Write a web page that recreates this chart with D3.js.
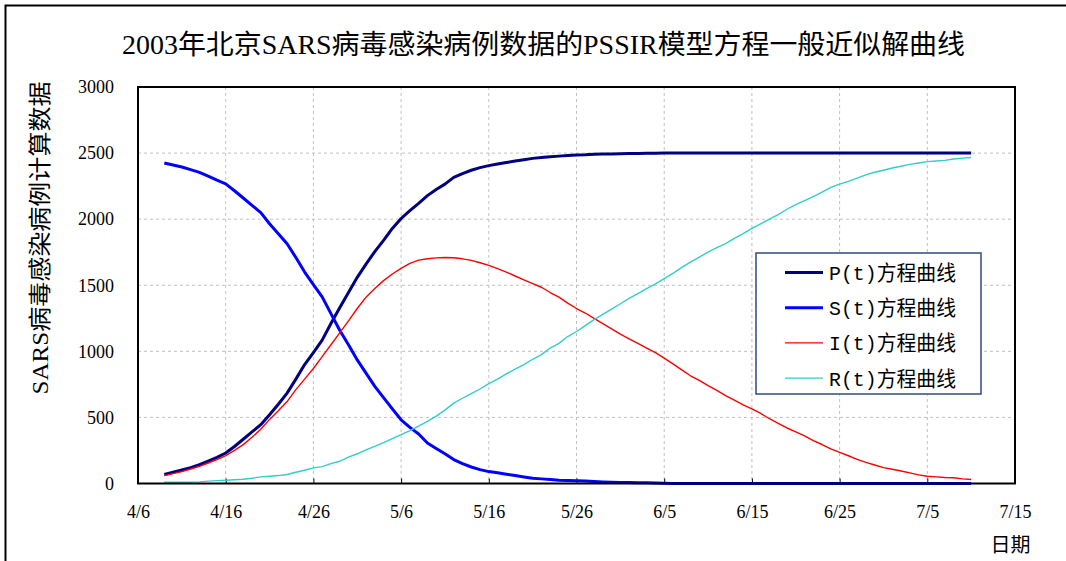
<!DOCTYPE html>
<html>
<head>
<meta charset="utf-8">
<script src="https://cdn.jsdelivr.net/npm/d3@7"></script>
<style>
  html, body { margin: 0; padding: 0; background: #fff; }
  svg { display: block; }
</style>
</head>
<body>
<svg id="chart" width="1066" height="561"></svg>
<script>
// ---------------- DATA ----------------
const chartTitle = "2003年北京SARS病毒感染病例数据的PSSIR模型方程一般近似解曲线";
const yAxisTitle = "SARS病毒感染病例计算数据";
const xAxisTitle = "日期";
const seriesNames = ["P(t)方程曲线", "S(t)方程曲线", "I(t)方程曲线", "R(t)方程曲线"];
const firstDate = "2003-04-09";   // first data point; one point per day
const xTickLabels = ["4/6", "4/16", "4/26", "5/6", "5/16", "5/26", "6/5", "6/15", "6/25", "7/5", "7/15"];
const yTickValues = [0, 500, 1000, 1500, 2000, 2500, 3000];

const P = [
  68, 85, 102, 120, 143, 170, 198, 231, 280, 335,
  390, 445, 520, 600, 684, 790, 900, 990, 1085, 1210,
  1330, 1445, 1560, 1660, 1755, 1840, 1930, 2005, 2065, 2120,
  2178, 2225, 2265, 2316, 2345, 2370, 2390, 2405, 2417, 2428,
  2440, 2450, 2460, 2466, 2472, 2477, 2481, 2485, 2487, 2492,
  2493, 2494, 2495, 2496, 2497, 2498, 2499, 2500, 2500, 2500,
  2500, 2500, 2500, 2500, 2500, 2500, 2500, 2500, 2500, 2500,
  2500, 2500, 2500, 2500, 2500, 2500, 2500, 2500, 2500, 2500,
  2500, 2500, 2500, 2500, 2500, 2500, 2500, 2500, 2500, 2500,
  2500, 2500, 2500
];
const S = [
  2425, 2410, 2395, 2375, 2354, 2325, 2295, 2267, 2215, 2160,
  2105, 2050, 1965, 1890, 1814, 1710, 1600, 1505, 1412, 1285,
  1160, 1050, 935, 835, 735, 650, 565, 482, 425, 375,
  307, 265, 225, 181, 150, 125, 105, 90, 81, 70,
  60, 50, 40, 35, 30, 25, 22, 20, 18, 15,
  12, 10, 8, 7, 6, 5, 3, 2, 0, 0,
  0, 0, 0, 0, 0, 0, 0, 0, 0, 0,
  0, 0, 0, 0, 0, 0, 0, 0, 0, 0,
  0, 0, 0, 0, 0, 0, 0, 0, 0, 0,
  0, 0, 0
];
const I = [
  60, 75, 90, 110, 130, 155, 180, 211, 250, 294,
  350, 410, 485, 550, 620, 710, 790, 870, 960, 1050,
  1140, 1230, 1324, 1410, 1475, 1535, 1585, 1628, 1665, 1690,
  1700, 1707, 1710, 1708, 1700, 1688, 1670, 1650, 1626, 1600,
  1570, 1540, 1512, 1485, 1445, 1410, 1365, 1324, 1290, 1250,
  1210, 1170, 1130, 1095, 1061, 1025, 990, 948, 905, 860,
  815, 780, 740, 705, 665, 630, 595, 565, 530, 490,
  455, 420, 390, 360, 325, 295, 262, 235, 210, 182,
  160, 140, 120, 108, 95, 80, 65, 55, 50, 45,
  43, 35, 30
];
const R = [
  10, 10, 10, 10, 12, 18, 22, 25, 28, 32,
  40, 50, 55, 60, 68, 85, 100, 118, 128, 150,
  168, 200, 225, 255, 281, 310, 340, 369, 400, 435,
  470, 510, 555, 608, 645, 680, 715, 755, 790, 830,
  865, 900, 940, 975, 1025, 1060, 1112, 1150, 1195, 1240,
  1280, 1320, 1360, 1400, 1437, 1475, 1510, 1550, 1590, 1635,
  1675, 1713, 1750, 1785, 1815, 1855, 1890, 1930, 1965, 2000,
  2035, 2075, 2110, 2140, 2170, 2205, 2240, 2265, 2286, 2310,
  2335, 2355, 2370, 2387, 2400, 2415, 2425, 2435, 2440, 2445,
  2455, 2462, 2467
];

// ---------------- CHART ----------------
const svg = d3.select("#chart");
const parseLabel = s => { const [m, d] = s.split("/").map(Number); return new Date(2003, m - 1, d); };
const start = d3.timeParse("%Y-%m-%d")(firstDate);
const dates = P.map((_, i) => d3.timeDay.offset(start, i));
const tickDates = xTickLabels.map(parseLabel);

const plot = { left: 138, right: 1015, top: 87, bottom: 483.5 };
const x = d3.scaleTime()
  .domain([tickDates[0], tickDates[tickDates.length - 1]])
  .range([plot.left, plot.right]);
const y = d3.scaleLinear().domain([0, 3000]).range([plot.bottom, plot.top]);

const latin = "'Liberation Serif', 'Times New Roman', serif";
const cjk = "'Liberation Serif', 'Noto Sans CJK SC', serif";

// outer frame
svg.append("rect").attr("x", 5.5).attr("y", 5.5).attr("width", 1100).attr("height", 600)
  .attr("fill", "none").attr("stroke", "#000").attr("stroke-width", 2);

// title
svg.append("text")
  .attr("x", 543.5).attr("y", 54)
  .attr("text-anchor", "middle")
  .attr("font-family", cjk).attr("font-size", 27).attr("fill", "#000")
  .attr("textLength", 843).attr("lengthAdjust", "spacingAndGlyphs")
  .text(chartTitle);

// grid
const grid = svg.append("g");
grid.selectAll("line.h").data(yTickValues.filter(v => v > 0 && v < 3000)).join("line")
  .attr("x1", plot.left).attr("x2", plot.right)
  .attr("y1", d => y(d)).attr("y2", d => y(d))
  .attr("stroke", "#c0c0c0").attr("stroke-width", 1).attr("stroke-dasharray", "3,3");
grid.selectAll("line.v").data(tickDates.slice(1, -1)).join("line")
  .attr("x1", d => x(d)).attr("x2", d => x(d))
  .attr("y1", plot.top).attr("y2", plot.bottom)
  .attr("stroke", "#c0c0c0").attr("stroke-width", 1).attr("stroke-dasharray", "3,3");

// axes
const xAxis = d3.axisBottom(x).tickValues(tickDates)
  .tickFormat((d, i) => xTickLabels[i]).tickSizeInner(-5).tickSizeOuter(0).tickPadding(22);
const gx = svg.append("g").attr("transform", `translate(0,${plot.bottom})`).call(xAxis);
gx.select(".domain").remove();
gx.selectAll(".tick line").attr("stroke", "#000");
gx.selectAll(".tick text").attr("font-family", latin).attr("font-size", 18).attr("fill", "#000");

const yAxis = d3.axisLeft(y).tickValues(yTickValues).tickFormat(d3.format("d")).tickSize(0).tickPadding(24);
const gy = svg.append("g").attr("transform", `translate(${plot.left},0)`).call(yAxis);
gy.select(".domain").remove();
gy.selectAll(".tick text").attr("font-family", latin).attr("font-size", 18).attr("fill", "#000");

// series lines
const series = [
  { name: seriesNames[0], values: P, color: "#000080", width: 3 },
  { name: seriesNames[1], values: S, color: "#0000ff", width: 3 },
  { name: seriesNames[2], values: I, color: "#ff0000", width: 1.4 },
  { name: seriesNames[3], values: R, color: "#33cccc", width: 1.4 }
];
const line = d3.line().x(d => x(d[0])).y(d => y(d[1]));
svg.append("g").selectAll("path").data(series).join("path")
  .attr("d", s => line(s.values.map((v, i) => [dates[i], v])))
  .attr("fill", "none").attr("stroke", s => s.color).attr("stroke-width", s => s.width)
  .attr("stroke-linejoin", "round");

// plot border
svg.append("rect")
  .attr("x", plot.left).attr("y", plot.top)
  .attr("width", plot.right - plot.left).attr("height", plot.bottom - plot.top)
  .attr("fill", "none").attr("stroke", "#000").attr("stroke-width", 2);

// y axis title
svg.append("text")
  .attr("transform", `translate(48,238) rotate(-90)`)
  .attr("text-anchor", "middle")
  .attr("font-family", cjk).attr("font-size", 23).attr("fill", "#000")
  .attr("textLength", 313).attr("lengthAdjust", "spacingAndGlyphs")
  .text(yAxisTitle);

// x axis title
svg.append("text")
  .attr("x", 1010.5).attr("y", 552)
  .attr("text-anchor", "middle")
  .attr("font-family", cjk).attr("font-size", 20).attr("fill", "#000")
  .text(xAxisTitle);

// legend
const lg = svg.append("g");
lg.append("rect").attr("x", 756).attr("y", 253).attr("width", 225).attr("height", 141)
  .attr("fill", "#fff").attr("stroke", "#2f4b7c").attr("stroke-width", 1.5);
const rows = lg.selectAll("g.row").data(series).join("g")
  .attr("transform", (d, i) => `translate(0,${272.5 + i * 35.2})`);
rows.append("line").attr("x1", 785).attr("x2", 823).attr("y1", 0).attr("y2", 0)
  .attr("stroke", d => d.color).attr("stroke-width", d => d.width);
rows.append("text").attr("x", 829).attr("y", 7.5)
  .attr("font-family", "'Liberation Mono', 'Noto Sans CJK SC', monospace")
  .attr("font-size", 21).attr("fill", "#000")
  .attr("textLength", 127).attr("lengthAdjust", "spacingAndGlyphs")
  .text(d => d.name);
</script>
</body>
</html>
